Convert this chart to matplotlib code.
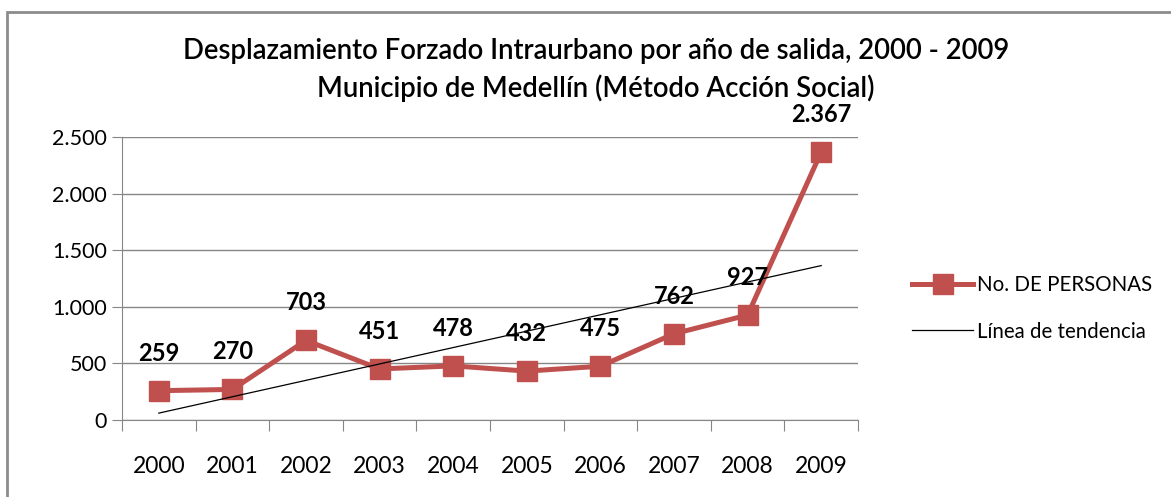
import numpy as np
import matplotlib.pyplot as plt
from matplotlib.patches import Rectangle
from matplotlib.ticker import FuncFormatter

plt.rcParams['font.family'] = ['Lato', 'DejaVu Sans']

years = ['2000', '2001', '2002', '2003', '2004', '2005', '2006', '2007', '2008', '2009']
personas = [259, 270, 703, 451, 478, 432, 475, 762, 927, 2367]

title = ('Desplazamiento Forzado Intraurbano por año de salida, 2000 - 2009\n'
         'Municipio de Medellín (Método Acción Social)')
red = '#C0504D'
grid = '#868686'


def miles(v, pos=None):
    return '{:,.0f}'.format(v).replace(',', '.')


x = np.arange(len(years))
slope, inter = np.polyfit(x, personas, 1)
trend = slope * x + inter

fig = plt.figure(figsize=(11.71, 4.97), dpi=100)
ax = fig.add_axes([122 / 1171, 77 / 497, 736 / 1171, 283 / 497])

ax.plot(x, personas, '-s', color=red, lw=3.6, ms=14, label='No. DE PERSONAS', zorder=3)
ax.plot(x, trend, '-', color='black', lw=0.9, label='Línea de tendencia', zorder=4)

for xi, v in zip(x, personas):
    ax.annotate(miles(v), (xi, v), xytext=(0, 27), textcoords='offset points',
                ha='center', va='center', fontsize=17, fontweight='bold', zorder=5)

ax.set_xlim(-0.5, len(years) - 0.5)
ax.set_ylim(0, 2500)
ax.set_yticks(np.arange(0, 2501, 500))
ax.yaxis.set_major_formatter(FuncFormatter(miles))
ax.set_xticks(np.arange(-0.5, len(years), 1.0))
ax.set_xticklabels([])
ax.set_xticks(x, minor=True)
ax.set_xticklabels(years, minor=True)
ax.tick_params(axis='x', which='major', direction='out', length=8, color=grid)
ax.tick_params(axis='x', which='minor', length=0, pad=26, labelsize=16.5)
ax.tick_params(axis='y', direction='out', length=7, color=grid, labelsize=15.5, pad=4)
ax.yaxis.grid(True, color=grid, lw=1)
ax.set_axisbelow(True)
for s in ['top', 'right']:
    ax.spines[s].set_visible(False)
for s in ['left', 'bottom']:
    ax.spines[s].set_color(grid)

fig.text(596 / 1171, 1 - 70 / 497, title, ha='center', va='center',
         fontsize=19.8, fontweight='semibold', linespacing=1.42)

ax.legend(loc='center left', bbox_to_anchor=(1.048, 0.395), frameon=False,
          fontsize=14.8, handlelength=3.0, labelspacing=1.3, handletextpad=0.15)

fig.add_artist(Rectangle((7 / 1171, -0.05), 1.1, 1.05 - 12 / 497, transform=fig.transFigure,
                         fill=False, edgecolor='#8c8c8c', lw=2))

fig.savefig('out.png', dpi=100)
